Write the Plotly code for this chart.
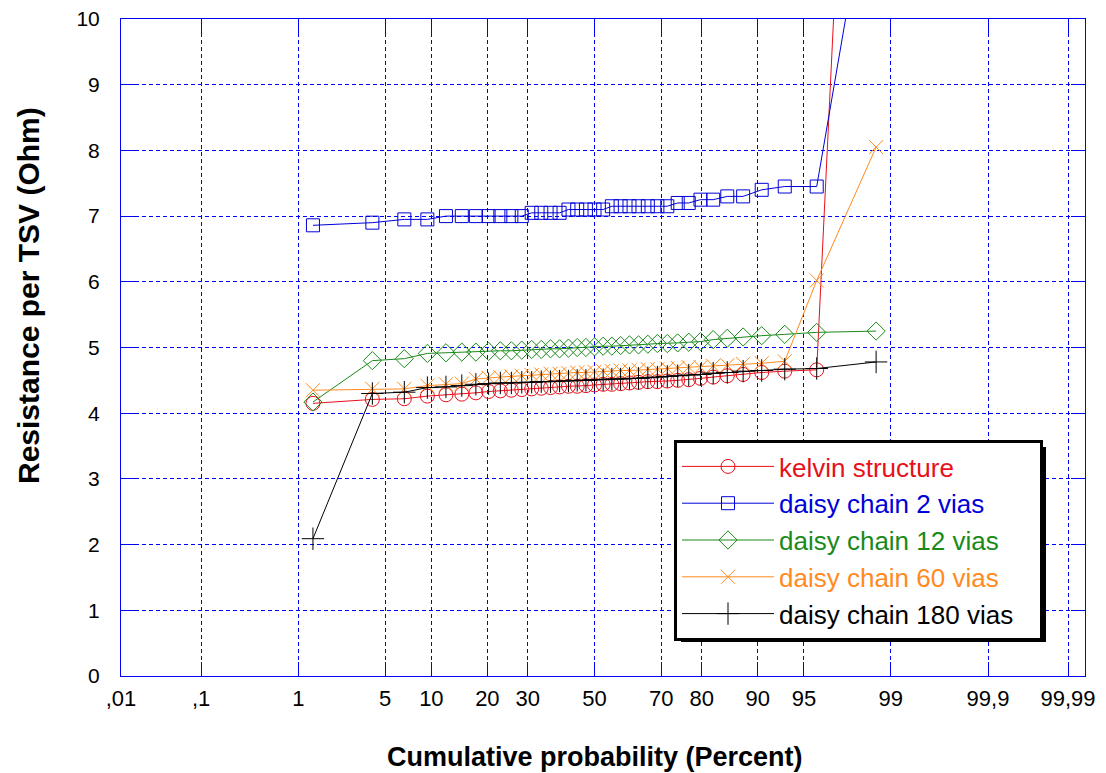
from statistics import NormalDist
import plotly.graph_objects as go

# Cumulative probability (percent) of each sorted sample
cum_pct = [1.35, 4.05, 6.76, 9.46, 12.16, 14.86, 17.57, 20.27, 22.97, 25.68,
           28.38, 31.08, 33.78, 36.49, 39.19, 41.89, 44.59, 47.30, 50.00, 52.70,
           55.41, 58.11, 60.81, 63.51, 66.22, 68.92, 71.62, 74.32, 77.03, 79.73,
           82.43, 85.14, 87.84, 90.54, 93.24, 95.95, 98.65]

kelvin = [4.15, 4.21, 4.22, 4.26, 4.28, 4.29, 4.31, 4.33, 4.34, 4.35,
          4.36, 4.37, 4.38, 4.39, 4.40, 4.41, 4.41, 4.42, 4.43, 4.44,
          4.44, 4.45, 4.46, 4.47, 4.48, 4.48, 4.49, 4.50, 4.51, 4.53,
          4.55, 4.57, 4.59, 4.62, 4.64, 4.66, 23.5]

daisy2 = [6.86, 6.90, 6.95, 6.95, 7.00, 7.00, 7.00, 7.00, 7.00, 7.00,
          7.00, 7.05, 7.05, 7.05, 7.05, 7.10, 7.10, 7.10, 7.10, 7.10,
          7.15, 7.15, 7.15, 7.15, 7.15, 7.15, 7.15, 7.20, 7.20, 7.25,
          7.25, 7.30, 7.30, 7.40, 7.45, 7.45, 12.7]

daisy12 = [4.17, 4.80, 4.83, 4.91, 4.92, 4.93, 4.93, 4.94, 4.95, 4.95,
           4.96, 4.97, 4.97, 4.98, 4.98, 4.99, 5.00, 5.00, 5.01, 5.02,
           5.02, 5.03, 5.04, 5.04, 5.05, 5.06, 5.06, 5.07, 5.08, 5.09,
           5.12, 5.14, 5.16, 5.18, 5.20, 5.23, 5.25]

daisy60 = [4.35, 4.37, 4.37, 4.42, 4.44, 4.45, 4.52, 4.54, 4.55, 4.56,
           4.57, 4.58, 4.59, 4.60, 4.60, 4.61, 4.62, 4.62, 4.63, 4.64,
           4.64, 4.65, 4.65, 4.66, 4.67, 4.67, 4.68, 4.69, 4.70, 4.70,
           4.72, 4.73, 4.75, 4.76, 4.79, 6.02, 8.05]

daisy180 = [2.09, 4.30, 4.32, 4.39, 4.40, 4.42, 4.44, 4.45, 4.46, 4.46,
            4.47, 4.47, 4.48, 4.48, 4.49, 4.49, 4.50, 4.50, 4.51, 4.51,
            4.52, 4.52, 4.53, 4.53, 4.54, 4.55, 4.56, 4.57, 4.58, 4.59,
            4.61, 4.62, 4.64, 4.65, 4.67, 4.68, 4.78]

tick_pct = [0.01, 0.1, 1, 5, 10, 20, 30, 50, 70, 80, 90, 95, 99, 99.9, 99.99]
tick_text = [",01", ",1", "1", "5", "10", "20", "30", "50", "70", "80", "90",
             "95", "99", "99,9", "99,99"]

series_names = ["kelvin structure", "daisy chain 2 vias", "daisy chain 12 vias",
                "daisy chain 60 vias", "daisy chain 180 vias"]
series_vals = [kelvin, daisy2, daisy12, daisy60, daisy180]
colors = ["#e8101a", "#0000d8", "#1a8a1a", "#ff8a1e", "#000000"]
symbols = ["circle-open", "square-open", "diamond-open", "x-thin-open", "cross-thin-open"]
sizes = [14, 13, 14, 14, 16]

nd = NormalDist()
def probit(p):
    return nd.inv_cdf(p / 100.0)

xq = [probit(p) for p in cum_pct]

longest = max(len(n) for n in series_names)
fig = go.Figure()
for i, (name, vals, c, s, sz) in enumerate(zip(series_names, series_vals, colors, symbols, sizes)):
    pad = "&nbsp;&nbsp;&nbsp;" if len(name) == longest else ""
    fig.add_trace(go.Scatter(
        x=xq, y=vals, mode="lines+markers",
        name=f"<span style='color:{c}'>{name}</span>{pad}",
        line=dict(color=c, width=1),
        marker=dict(symbol=s, size=sz, color=c, line=dict(color=c, width=1)),
    ))

BLUE = "#0000ff"
FONT = "Liberation Sans, Arial, sans-serif"

fig.update_xaxes(
    range=[probit(0.01), 3.852],
    tickmode="array", tickvals=[probit(p) for p in tick_pct], ticktext=tick_text,
    showgrid=True, gridcolor=BLUE, gridwidth=1, griddash="4px,3px",
    showline=True, linecolor=BLUE, linewidth=1, mirror="ticks",
    ticks="inside", ticklen=14, tickcolor=BLUE, tickwidth=1,
    zeroline=False, ticklabelstandoff=3, ticklabeloverflow="allow",
    tickfont=dict(family=FONT, size=22, color="black"),
    automargin=False,
)
fig.update_yaxes(
    range=[0, 10], dtick=1,
    showgrid=True, gridcolor=BLUE, gridwidth=1, griddash="4px,3px",
    showline=True, linecolor=BLUE, linewidth=1, mirror="ticks",
    ticks="inside", ticklen=14, tickcolor=BLUE, tickwidth=1,
    zeroline=False, ticklabelstandoff=16, ticklabeloverflow="allow",
    tickfont=dict(family=FONT, size=21, color="black"),
    automargin=False,
)

# page body has an 8px margin, so the figure starts at (8, 8) in the window
OFF = 8
W, H = 1106 - OFF, 773 - OFF
L, R, T, B = 121 - OFF, 21, 19 - OFF, 97
pw, ph = W - L - R, H - T - B

def px_x(x):  # window pixel -> paper x
    return (x - OFF - L) / pw
def px_y(y):  # window pixel -> paper y
    return (H - B - (y - OFF)) / ph

# axis titles
fig.add_annotation(text="<b>Cumulative probability (Percent)</b>", xref="paper", yref="paper",
                   x=px_x(595), y=px_y(757), xanchor="center", yanchor="middle",
                   showarrow=False, font=dict(family=FONT, size=27, color="black"))
fig.add_annotation(text="<b>Resistance per TSV (Ohm)</b>", xref="paper", yref="paper",
                   x=px_x(28), y=px_y(296), xanchor="center", yanchor="middle", textangle=-90,
                   showarrow=False, font=dict(family=FONT, size=30, color="black"))

# legend box, in window pixels (rendered box is ~366 x 197)
leg_x0, leg_y0 = 674, 440
leg_w, leg_h = 367, 197
shadow = 5

fig.add_shape(type="rect", xref="paper", yref="paper",
              x0=px_x(leg_x0 + shadow + 2), x1=px_x(leg_x0 + leg_w + shadow),
              y0=px_y(leg_y0 + leg_h + shadow), y1=px_y(leg_y0 + shadow + 2),
              fillcolor="black", line=dict(width=0), layer="above")

fig.update_layout(
    width=W, height=H,
    margin=dict(l=L, r=R, t=T, b=B),
    plot_bgcolor="white", paper_bgcolor="white",
    font=dict(family=FONT),
    showlegend=True,
    legend=dict(
        x=px_x(leg_x0), y=px_y(leg_y0), xanchor="left", yanchor="top",
        bgcolor="white", bordercolor="black", borderwidth=3,
        font=dict(family=FONT, size=26, color="black"),
        itemwidth=92,
    ),
)

fig.write_html("out.html")
